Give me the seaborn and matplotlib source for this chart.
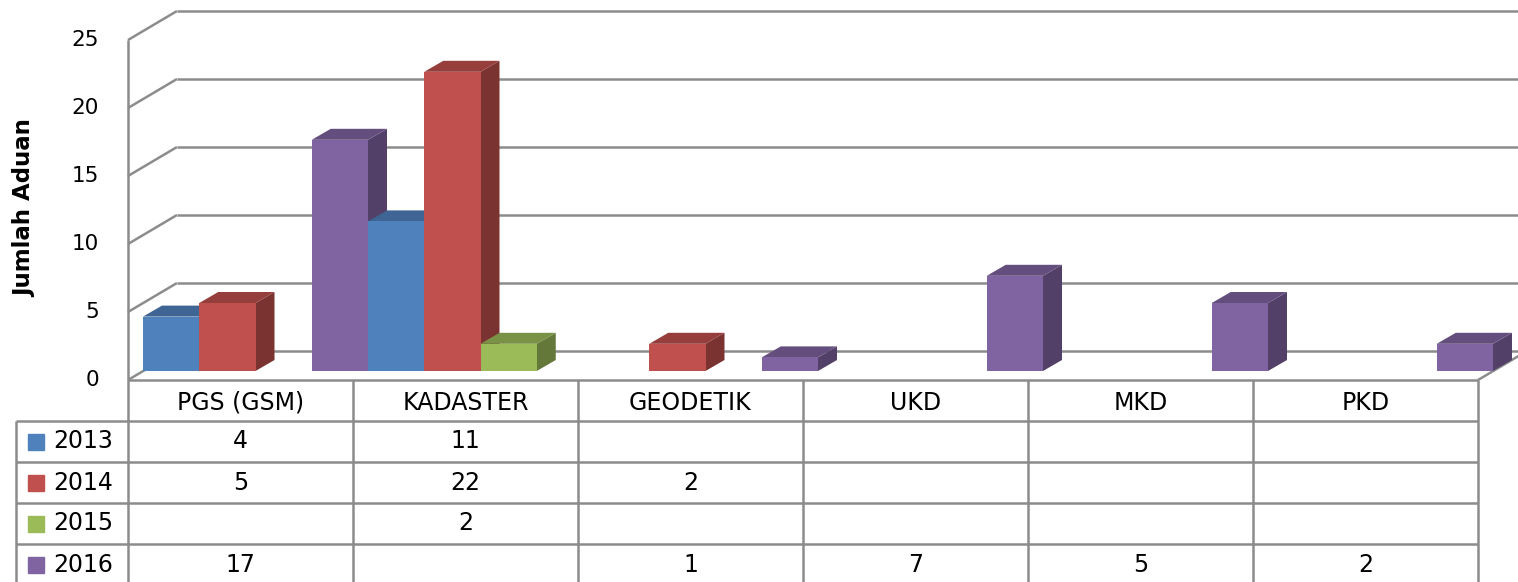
"""Jumlah aduan per kategori, 2013-2016 (3D-style clustered columns with data table)."""

import matplotlib
matplotlib.use("Agg")
import matplotlib.pyplot as plt
from matplotlib.colors import to_rgb
from matplotlib.patches import Polygon, Rectangle
import numpy as np
import pandas as pd
import seaborn as sns

categories = ["PGS (GSM)", "KADASTER", "GEODETIK", "UKD", "MKD", "PKD"]
years = ["2013", "2014", "2015", "2016"]
aduan_2013 = [4, 11, np.nan, np.nan, np.nan, np.nan]
aduan_2014 = [5, 22, 2, np.nan, np.nan, np.nan]
aduan_2015 = [np.nan, 2, np.nan, np.nan, np.nan, np.nan]
aduan_2016 = [17, np.nan, 1, 7, 5, 2]
y_ticks = [0, 5, 10, 15, 20, 25]
y_label = "Jumlah Aduan"

colors = ["#4F81BD", "#C0504D", "#9BBB59", "#8064A2"]
line_color = "#8C8C8C"

sns.set_theme(style="white")
plt.rcParams["font.family"] = ["DejaVu Sans"]
plt.rcParams["text.color"] = "black"

W, H = 1518, 582
CAT_PX, VAL_PX = 225, 13.6  # pixels per category / per unit value
TXT = 17
TICK_TXT = 15.5

fig = plt.figure(figsize=(W / 100, H / 100), dpi=100)
fig.patch.set_facecolor("white")

# axes = front plane of the columns
ax = fig.add_axes([143 / W, (H - 371) / H, 6 * CAT_PX / W, 25 * VAL_PX / H])

series = [aduan_2013, aduan_2014, aduan_2015, aduan_2016]
rows = []
for year, vals in zip(years, series):
    for cat, v in zip(categories, vals):
        rows.append({"kategori": cat, "tahun": year, "aduan": v})
df = pd.DataFrame(rows).dropna()

sns.barplot(data=df, x="kategori", y="aduan", hue="tahun", order=categories,
            hue_order=years, palette=colors, width=1.0, gap=0, saturation=1,
            errorbar=None, legend=False, linewidth=0, ax=ax)
ax.set_xlim(-0.5, 5.5)
ax.set_ylim(0, 25)
ax.set_axis_off()


def shade(c, f):
    r, g, b = to_rgb(c)
    return (r * f, g * f, b * f)


# depth offsets (in data units)
ddx, ddy = 19 / CAT_PX, 11 / VAL_PX      # column depth
fx, fy = -15 / CAT_PX, -9 / VAL_PX       # front of the box
bx, by = 34 / CAT_PX, 20 / VAL_PX        # back wall

bars = sorted([p for p in ax.patches if isinstance(p, Rectangle) and p.get_height() > 0],
              key=lambda p: p.get_x())
for i, bar in enumerate(bars):
    x, w, h = bar.get_x(), bar.get_width(), bar.get_height()
    fc = bar.get_facecolor()
    z = 3 + i * 0.01
    bar.set_zorder(z + 0.005)
    bar.set_clip_on(False)
    top = Polygon([(x, h), (x + w, h), (x + w + ddx, h + ddy), (x + ddx, h + ddy)],
                  closed=True, fc=shade(fc, 0.78), ec="none", zorder=z, clip_on=False)
    side = Polygon([(x + w, 0), (x + w, h), (x + w + ddx, h + ddy), (x + w + ddx, ddy)],
                   closed=True, fc=shade(fc, 0.64), ec="none", zorder=z, clip_on=False)
    ax.add_patch(side)
    ax.add_patch(top)

line_kw = dict(color=line_color, lw=1.8, clip_on=False, zorder=1, solid_capstyle="butt")
x0, x1 = -0.5, 5.5
for v in y_ticks:
    ax.plot([x0 + bx, x1 + bx], [v + by, v + by], **line_kw)
    ax.plot([x0 + fx, x0 + bx], [v + fy, v + by], **line_kw)
    ax.text(x0 + fx - 29 / CAT_PX, v + fy, str(v), ha="right", va="center",
            fontsize=TICK_TXT, color="black")
ax.plot([x0 + fx, x0 + fx], [fy, 25 + fy], **line_kw)
ax.plot([x0 + fx, x1 + fx], [fy, fy], **line_kw)
ax.plot([x1 + fx, x1 + bx], [fy, by], **line_kw)

fig.text(25 / W, 1 - 208 / H, y_label, rotation=90, ha="center", va="center",
         fontsize=16.5, fontweight="bold", color="black", family=["DejaVu Sans"])

# data table
ROW_PX = 41
tax = fig.add_axes([128 / W, 0, 6 * CAT_PX / W, 202 / H])
tax.set_xlim(-0.5, 5.5)
tax.set_ylim(202 / ROW_PX, 0)
tax.set_axis_off()

grid_kw = dict(color=line_color, lw=1.8, clip_on=False, solid_capstyle="butt")
n_rows = len(years)
legend_left = -0.5 - 112 / CAT_PX
for k in range(len(categories) + 1):
    tax.plot([k - 0.5, k - 0.5], [0, n_rows + 1], **grid_kw)
tax.plot([legend_left, legend_left], [1, n_rows + 1], **grid_kw)
for r in range(1, n_rows + 1):
    tax.plot([legend_left, 5.5], [r, r], **grid_kw)

for i, cat in enumerate(categories):
    tax.text(i, 0.55, cat, ha="center", va="center", fontsize=TXT, color="black")

for r, (year, vals, col) in enumerate(zip(years, series, colors), start=1):
    tax.add_patch(Rectangle((legend_left + 12 / CAT_PX, r + 0.5 - 8 / ROW_PX),
                            16 / CAT_PX, 16 / ROW_PX, color=col, clip_on=False))
    tax.text(legend_left + 37 / CAT_PX, r + 0.5, year, ha="left", va="center",
             fontsize=TXT, color="black")
    for i, v in enumerate(vals):
        if not np.isnan(v):
            tax.text(i, r + 0.5, f"{int(v)}", ha="center", va="center",
                     fontsize=TXT, color="black")

fig.savefig("out.png", dpi=100, facecolor="white")
